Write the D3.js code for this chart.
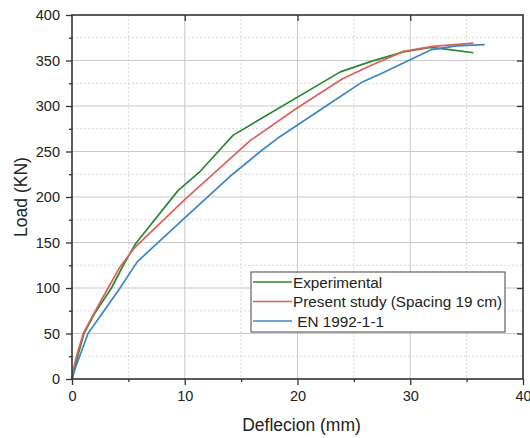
<!DOCTYPE html>
<html>
<head>
<meta charset="utf-8">
<script src="https://cdn.jsdelivr.net/npm/d3@7"></script>
<style>
  html, body { margin: 0; padding: 0; background: #fff; }
  svg { display: block; font-family: "Liberation Sans", Arial, sans-serif; }
</style>
</head>
<body>
<svg id="chart" width="530" height="438"></svg>
<script>
// Load–deflection curves: [deflection (mm), load (kN)]
const experimental = [
  [0, 0], [0.5, 25], [1.06, 50], [2.0, 72], [3.5, 100], [4.55, 125], [5.6, 148],
  [9.4, 207], [11.35, 228], [14.3, 268], [23.8, 337.5], [26.4, 348.5],
  [29.4, 359.5], [31.8, 364.5], [33.5, 362], [35.6, 358.5]
];
const presentStudy = [
  [0, 0], [0.15, 12], [0.4, 25], [1.0, 50], [1.9, 71], [3.2, 100], [4.3, 124],
  [5.6, 145], [10.0, 197], [15.8, 262], [20.0, 298], [24.0, 330], [26.4, 344],
  [29.4, 360], [32.0, 365.5], [35.6, 369]
];
const en1992 = [
  [0, 0], [0.35, 14], [0.68, 25], [1.42, 50], [2.5, 69], [4.2, 99], [5.8, 129],
  [10.0, 177], [14.0, 222.5], [16.7, 250], [18.4, 266], [22.9, 303], [25.7, 326],
  [27.3, 335], [31.9, 362], [34.1, 366], [36.6, 367.5]
];

const seriesNames = ["Experimental", "Present study (Spacing 19 cm)", " EN 1992-1-1"];
const seriesColors = ["#2b8832", "#d9625c", "#3b86c4"];

const xMajorTicks = [0, 10, 20, 30, 40];
const xMinorTicks = [5, 15, 25, 35];
const yMajorTicks = [0, 50, 100, 150, 200, 250, 300, 350, 400];
const yMinorTicks = [25, 75, 125, 175, 225, 275, 325, 375];

const xTitle = "Deflecion (mm)";
const yTitle = "Load (KN)";

const svg = d3.select("#chart");
const plot = { left: 72, right: 523, top: 15, bottom: 379 };

const x = d3.scaleLinear().domain([0, 40]).range([plot.left, plot.right]);
const y = d3.scaleLinear().domain([0, 400]).range([plot.bottom, plot.top]);

// grid: solid at major steps, dotted at minor steps
const grid = svg.append("g");
grid.selectAll(".gxm").data(xMajorTicks.filter(d => d > 0 && d < 40)).join("line")
  .attr("x1", d => x(d)).attr("x2", d => x(d)).attr("y1", plot.top).attr("y2", plot.bottom)
  .attr("stroke", "#c9c9c9").attr("stroke-width", 1);
grid.selectAll(".gym").data(yMajorTicks.filter(d => d > 0 && d < 400)).join("line")
  .attr("y1", d => y(d)).attr("y2", d => y(d)).attr("x1", plot.left).attr("x2", plot.right)
  .attr("stroke", "#c9c9c9").attr("stroke-width", 1);
grid.selectAll(".gxn").data(xMinorTicks).join("line")
  .attr("x1", d => x(d)).attr("x2", d => x(d)).attr("y1", plot.top).attr("y2", plot.bottom)
  .attr("stroke", "#d6d6d6").attr("stroke-width", 1).attr("stroke-dasharray", "2,2");
grid.selectAll(".gyn").data(yMinorTicks).join("line")
  .attr("y1", d => y(d)).attr("y2", d => y(d)).attr("x1", plot.left).attr("x2", plot.right)
  .attr("stroke", "#d6d6d6").attr("stroke-width", 1).attr("stroke-dasharray", "2,2");

// curves
const line = d3.line().x(d => x(d[0])).y(d => y(d[1]));
[experimental, presentStudy, en1992].forEach((data, i) => {
  svg.append("path").datum(data)
    .attr("d", line).attr("fill", "none")
    .attr("stroke", seriesColors[i]).attr("stroke-width", 1.7)
    .attr("stroke-linejoin", "round");
});

// axes
const axisColor = "#333";
function styleAxis(g) {
  g.select(".domain").remove();
  g.selectAll(".tick line").attr("stroke", axisColor).attr("stroke-width", 1.3);
  g.selectAll(".tick text").attr("fill", "#222").attr("font-size", 14.5)
    .attr("font-family", "Liberation Sans, Arial, sans-serif");
}
svg.append("g").attr("transform", `translate(0,${plot.bottom})`)
  .call(d3.axisBottom(x).tickValues(xMajorTicks).tickSize(6).tickPadding(6).tickFormat(d3.format("d")))
  .call(styleAxis);
svg.append("g").attr("transform", `translate(0,${plot.bottom})`)
  .call(d3.axisBottom(x).tickValues(xMinorTicks).tickSize(3).tickFormat(""))
  .call(styleAxis);
svg.append("g").attr("transform", `translate(${plot.left},0)`)
  .call(d3.axisLeft(y).tickValues(yMajorTicks).tickSize(6).tickPadding(6).tickFormat(d3.format("d")))
  .call(styleAxis);
svg.append("g").attr("transform", `translate(${plot.left},0)`)
  .call(d3.axisLeft(y).tickValues(yMinorTicks).tickSize(3).tickFormat(""))
  .call(styleAxis);
svg.append("g").attr("transform", `translate(0,${plot.top})`)
  .call(d3.axisTop(x).tickValues(xMajorTicks.filter(d => d > 0 && d < 40)).tickSize(-6).tickFormat(""))
  .call(styleAxis);
svg.append("g").attr("transform", `translate(${plot.right},0)`)
  .call(d3.axisRight(y).tickValues(yMajorTicks.filter(d => d > 0 && d < 400)).tickSize(-6).tickFormat(""))
  .call(styleAxis);

// frame
svg.append("rect")
  .attr("x", plot.left).attr("y", plot.top)
  .attr("width", plot.right - plot.left).attr("height", plot.bottom - plot.top)
  .attr("fill", "none").attr("stroke", axisColor).attr("stroke-width", 1.6);

// axis titles
svg.append("text").attr("x", (plot.left + plot.right) / 2 + 4).attr("y", 431)
  .attr("text-anchor", "middle").attr("font-size", 17.5).attr("fill", "#222").text(xTitle);
svg.append("text").attr("transform", `translate(27,${(plot.top + plot.bottom) / 2}) rotate(-90)`)
  .attr("text-anchor", "middle").attr("font-size", 17.5).attr("fill", "#222").text(yTitle);

// legend
const legend = svg.append("g").attr("transform", "translate(251,272)");
legend.append("rect").attr("width", 254).attr("height", 60)
  .attr("fill", "#fff").attr("stroke", "#444").attr("stroke-width", 1);
seriesNames.forEach((name, i) => {
  const ly = 10 + i * 19.5;
  legend.append("line").attr("x1", 2).attr("x2", 41).attr("y1", ly).attr("y2", ly)
    .attr("stroke", seriesColors[i]).attr("stroke-width", 1.7);
  legend.append("text").attr("x", 42).attr("y", ly + 5.5)
    .attr("font-size", 15.3).attr("fill", "#222")
    .attr("xml:space", "preserve").style("white-space", "pre")
    .text(name);
});
</script>
</body>
</html>
